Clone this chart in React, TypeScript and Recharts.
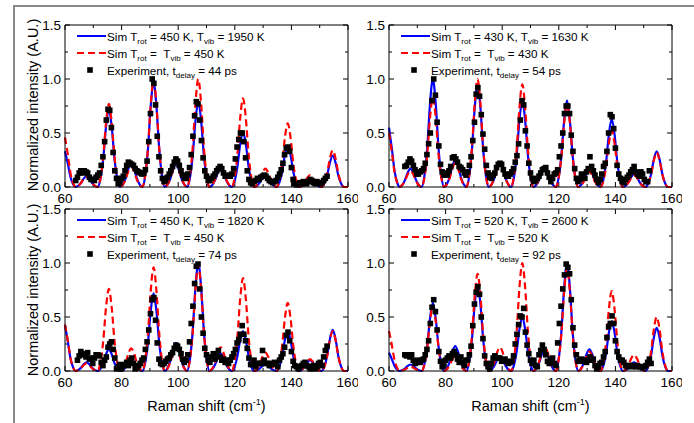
import React from 'react';
import { ComposedChart, Line, Scatter, XAxis, YAxis, ReferenceLine } from 'recharts';

// Raman shift grid of the simulated spectra (cm-1)
const simShift = [
  60, 61, 62, 63, 63.65,
  64.6, 65.6, 66.6, 67.6, 68.6, 69.6, 70.6, 71.55,
  72.5, 73.5, 74.5, 75.5, 76.5, 77.5, 78.5, 79.45,
  80.4, 81.4, 82.4, 83.4, 84.4, 85.4, 86.4, 87.35,
  88.3, 89.3, 90.3, 91.3, 92.3, 93.3, 94.3, 95.25,
  96.2, 97.2, 98.2, 99.2, 100.2, 101.2, 102.2, 103.15,
  104.1, 105.1, 106.1, 107.1, 108.1, 109.1, 110.1, 111.05,
  112.0, 113.0, 114.0, 115.0, 116.0, 117.0, 118.0, 118.95,
  119.9, 120.9, 121.9, 122.9, 123.9, 124.9, 125.9, 126.85,
  127.8, 128.8, 129.8, 130.8, 131.8, 132.8, 133.8, 134.75,
  135.7, 136.7, 137.7, 138.7, 139.7, 140.7, 141.7, 142.65,
  143.6, 144.6, 145.6, 146.6, 147.6, 148.6, 149.6, 150.6,
  151.6, 152.6, 153.6, 154.6, 155.6, 156.6, 157.6, 158.6, 160,
];

// top left: Trot = 450 K, Tvib = 1950 K
const tlBlue = [
  0.33, 0.215, 0.086, 0.02, 0,
  0.01, 0.036, 0.078, 0.1, 0.078, 0.036, 0.01, 0,
  0.072, 0.259, 0.558, 0.72, 0.558, 0.259, 0.072, 0,
  0.022, 0.079, 0.171, 0.22, 0.171, 0.079, 0.022, 0,
  0.097, 0.349, 0.752, 0.97, 0.752, 0.349, 0.097, 0,
  0.021, 0.076, 0.163, 0.21, 0.163, 0.076, 0.021, 0,
  0.079, 0.284, 0.612, 0.79, 0.612, 0.284, 0.079, 0,
  0.017, 0.061, 0.132, 0.17, 0.132, 0.061, 0.017, 0,
  0.051, 0.184, 0.395, 0.51, 0.395, 0.184, 0.051, 0,
  0.011, 0.04, 0.085, 0.11, 0.085, 0.04, 0.011, 0,
  0.038, 0.137, 0.295, 0.38, 0.295, 0.137, 0.038, 0,
  0.007, 0.025, 0.054, 0.07, 0.054, 0.025, 0.007, 0,
  0.029, 0.104, 0.225, 0.29, 0.225, 0.104, 0.029, 0, 0,
];
const tlRed = [
  0.46, 0.3, 0.12, 0.028, 0,
  0.01, 0.036, 0.078, 0.1, 0.078, 0.036, 0.01, 0,
  0.077, 0.277, 0.597, 0.77, 0.597, 0.277, 0.077, 0,
  0.019, 0.068, 0.147, 0.19, 0.147, 0.068, 0.019, 0,
  0.099, 0.356, 0.767, 0.99, 0.767, 0.356, 0.099, 0,
  0.022, 0.079, 0.171, 0.22, 0.171, 0.079, 0.022, 0,
  0.1, 0.36, 0.775, 1.0, 0.775, 0.36, 0.1, 0,
  0.019, 0.068, 0.147, 0.19, 0.147, 0.068, 0.019, 0,
  0.082, 0.295, 0.636, 0.82, 0.636, 0.295, 0.082, 0,
  0.017, 0.061, 0.132, 0.17, 0.132, 0.061, 0.017, 0,
  0.059, 0.212, 0.457, 0.59, 0.457, 0.212, 0.059, 0,
  0.011, 0.04, 0.085, 0.11, 0.085, 0.04, 0.011, 0,
  0.034, 0.122, 0.264, 0.34, 0.264, 0.122, 0.034, 0, 0,
];

// top right: Trot = 430 K, Tvib = 1630 K
const trBlue = [
  0.55, 0.358, 0.143, 0.033, 0,
  0.017, 0.061, 0.132, 0.17, 0.132, 0.061, 0.017, 0,
  0.1, 0.36, 0.775, 1.0, 0.775, 0.36, 0.1, 0,
  0.025, 0.09, 0.194, 0.25, 0.194, 0.09, 0.025, 0,
  0.095, 0.342, 0.736, 0.95, 0.736, 0.342, 0.095, 0,
  0.022, 0.079, 0.171, 0.22, 0.171, 0.079, 0.022, 0,
  0.08, 0.288, 0.62, 0.8, 0.62, 0.288, 0.08, 0,
  0.018, 0.065, 0.14, 0.18, 0.14, 0.065, 0.018, 0,
  0.08, 0.288, 0.62, 0.8, 0.62, 0.288, 0.08, 0,
  0.016, 0.058, 0.124, 0.16, 0.124, 0.058, 0.016, 0,
  0.063, 0.227, 0.488, 0.63, 0.488, 0.227, 0.063, 0,
  0.012, 0.043, 0.093, 0.12, 0.093, 0.043, 0.012, 0,
  0.033, 0.119, 0.256, 0.33, 0.256, 0.119, 0.033, 0, 0,
];
const trRed = [
  0.5, 0.325, 0.13, 0.03, 0,
  0.015, 0.054, 0.116, 0.15, 0.116, 0.054, 0.015, 0,
  0.083, 0.299, 0.643, 0.83, 0.643, 0.299, 0.083, 0,
  0.022, 0.079, 0.171, 0.22, 0.171, 0.079, 0.022, 0,
  0.1, 0.36, 0.775, 1.0, 0.775, 0.36, 0.1, 0,
  0.022, 0.079, 0.171, 0.22, 0.171, 0.079, 0.022, 0,
  0.095, 0.342, 0.736, 0.95, 0.736, 0.342, 0.095, 0,
  0.02, 0.072, 0.155, 0.2, 0.155, 0.072, 0.02, 0,
  0.077, 0.277, 0.597, 0.77, 0.597, 0.277, 0.077, 0,
  0.014, 0.05, 0.109, 0.14, 0.109, 0.05, 0.014, 0,
  0.052, 0.187, 0.403, 0.52, 0.403, 0.187, 0.052, 0,
  0.011, 0.04, 0.085, 0.11, 0.085, 0.04, 0.011, 0,
  0.032, 0.115, 0.248, 0.32, 0.248, 0.115, 0.032, 0, 0,
];

// bottom left: Trot = 450 K, Tvib = 1820 K
const blBlue = [
  0.42, 0.273, 0.109, 0.025, 0,
  0.008, 0.029, 0.062, 0.08, 0.062, 0.029, 0.008, 0,
  0.02, 0.072, 0.155, 0.2, 0.155, 0.072, 0.02, 0,
  0.009, 0.032, 0.07, 0.09, 0.07, 0.032, 0.009, 0,
  0.072, 0.259, 0.558, 0.72, 0.558, 0.259, 0.072, 0,
  0.026, 0.094, 0.202, 0.26, 0.202, 0.094, 0.026, 0,
  0.1, 0.36, 0.775, 1.0, 0.775, 0.36, 0.1, 0,
  0.016, 0.058, 0.124, 0.16, 0.124, 0.058, 0.016, 0,
  0.037, 0.133, 0.287, 0.37, 0.287, 0.133, 0.037, 0,
  0.006, 0.022, 0.047, 0.06, 0.047, 0.022, 0.006, 0,
  0.037, 0.133, 0.287, 0.37, 0.287, 0.133, 0.037, 0,
  0.01, 0.036, 0.078, 0.1, 0.078, 0.036, 0.01, 0,
  0.038, 0.137, 0.295, 0.38, 0.295, 0.137, 0.038, 0, 0,
];
const blRed = [
  0.43, 0.28, 0.112, 0.026, 0,
  0.007, 0.025, 0.054, 0.07, 0.054, 0.025, 0.007, 0,
  0.076, 0.274, 0.589, 0.76, 0.589, 0.274, 0.076, 0,
  0.021, 0.076, 0.163, 0.21, 0.163, 0.076, 0.021, 0,
  0.096, 0.346, 0.744, 0.96, 0.744, 0.346, 0.096, 0,
  0.022, 0.079, 0.171, 0.22, 0.171, 0.079, 0.022, 0,
  0.098, 0.353, 0.76, 0.98, 0.76, 0.353, 0.098, 0,
  0.022, 0.079, 0.171, 0.22, 0.171, 0.079, 0.022, 0,
  0.086, 0.31, 0.667, 0.86, 0.667, 0.31, 0.086, 0,
  0.017, 0.061, 0.132, 0.17, 0.132, 0.061, 0.017, 0,
  0.063, 0.227, 0.488, 0.63, 0.488, 0.227, 0.063, 0,
  0.011, 0.04, 0.085, 0.11, 0.085, 0.04, 0.011, 0,
  0.037, 0.133, 0.287, 0.37, 0.287, 0.133, 0.037, 0, 0,
];

// bottom right: Trot = 520 K, Tvib = 2600 K
const brBlue = [
  0.17, 0.11, 0.044, 0.01, 0,
  0.006, 0.022, 0.047, 0.06, 0.047, 0.022, 0.006, 0,
  0.063, 0.227, 0.488, 0.63, 0.488, 0.227, 0.063, 0,
  0.023, 0.083, 0.178, 0.23, 0.178, 0.083, 0.023, 0,
  0.08, 0.288, 0.62, 0.8, 0.62, 0.288, 0.08, 0,
  0.013, 0.047, 0.101, 0.13, 0.101, 0.047, 0.013, 0,
  0.05, 0.18, 0.388, 0.5, 0.388, 0.18, 0.05, 0,
  0.02, 0.072, 0.155, 0.2, 0.155, 0.072, 0.02, 0,
  0.1, 0.36, 0.775, 1.0, 0.775, 0.36, 0.1, 0,
  0.02, 0.072, 0.155, 0.2, 0.155, 0.072, 0.02, 0,
  0.046, 0.166, 0.357, 0.46, 0.357, 0.166, 0.046, 0,
  0.008, 0.029, 0.062, 0.08, 0.062, 0.029, 0.008, 0,
  0.04, 0.144, 0.31, 0.4, 0.31, 0.144, 0.04, 0, 0,
];
const brRed = [
  0.37, 0.24, 0.096, 0.022, 0,
  0.004, 0.014, 0.031, 0.04, 0.031, 0.014, 0.004, 0,
  0.06, 0.216, 0.465, 0.6, 0.465, 0.216, 0.06, 0,
  0.014, 0.05, 0.109, 0.14, 0.109, 0.05, 0.014, 0,
  0.09, 0.324, 0.698, 0.9, 0.698, 0.324, 0.09, 0,
  0.022, 0.079, 0.171, 0.22, 0.171, 0.079, 0.022, 0,
  0.1, 0.36, 0.775, 1.0, 0.775, 0.36, 0.1, 0,
  0.023, 0.083, 0.178, 0.23, 0.178, 0.083, 0.023, 0,
  0.095, 0.342, 0.736, 0.95, 0.736, 0.342, 0.095, 0,
  0.018, 0.065, 0.14, 0.18, 0.14, 0.065, 0.018, 0,
  0.074, 0.266, 0.574, 0.74, 0.574, 0.266, 0.074, 0,
  0.015, 0.054, 0.116, 0.15, 0.116, 0.054, 0.015, 0,
  0.05, 0.18, 0.388, 0.5, 0.388, 0.18, 0.05, 0, 0,
];

// measured spectra grid (cm-1)
const expShift = [
  63.8, 64.4, 65.0, 65.6, 66.2, 66.8, 67.4, 68.0, 68.6, 69.2,
  69.8, 70.4, 71.0, 71.6, 72.2, 72.8, 73.4, 74.0, 74.6, 75.2,
  75.8, 76.4, 77.0, 77.6, 78.2, 78.8, 79.4, 80.0, 80.6, 81.2,
  81.8, 82.4, 83.0, 83.6, 84.2, 84.8, 85.4, 86.0, 86.6, 87.2,
  87.8, 88.4, 89.0, 89.6, 90.2, 90.8, 91.4, 92.0, 92.6, 93.2,
  93.8, 94.4, 95.0, 95.6, 96.2, 96.8, 97.4, 98.0, 98.6, 99.2,
  99.8, 100.4, 101.0, 101.6, 102.2, 102.8, 103.4, 104.0, 104.6, 105.2,
  105.8, 106.4, 107.0, 107.6, 108.2, 108.8, 109.4, 110.0, 110.6, 111.2,
  111.8, 112.4, 113.0, 113.6, 114.2, 114.8, 115.4, 116.0, 116.6, 117.2,
  117.8, 118.4, 119.0, 119.6, 120.2, 120.8, 121.4, 122.0, 122.6, 123.2,
  123.8, 124.4, 125.0, 125.6, 126.2, 126.8, 127.4, 128.0, 128.6, 129.2,
  129.8, 130.4, 131.0, 131.6, 132.2, 132.8, 133.4, 134.0, 134.6, 135.2,
  135.8, 136.4, 137.0, 137.6, 138.2, 138.8, 139.4, 140.0, 140.6, 141.2,
  141.8, 142.4, 143.0, 143.6, 144.2, 144.8, 145.4, 146.0, 146.6, 147.2,
  147.8, 148.4, 149.0, 149.6, 150.2, 150.8, 151.4, 152.0, 152.6,
];

const tlExp = [
  0.06, 0.09, 0.13, 0.15, 0.13, 0.15, 0.14, 0.13, 0.09, 0.07,
  0.07, 0.06, 0.09, 0.11, 0.13, 0.2, 0.28, 0.42, 0.62, 0.72,
  0.71, 0.55, 0.32, 0.15, 0.08, 0.03, 0.04, 0.08, 0.1, 0.15,
  0.2, 0.23, 0.22, 0.21, 0.2, 0.17, 0.15, 0.14, 0.13, 0.12,
  0.13, 0.16, 0.24, 0.42, 0.68, 1.0, 0.96, 0.76, 0.47, 0.28,
  0.15, 0.08, 0.05, 0.06, 0.09, 0.12, 0.15, 0.19, 0.23, 0.26,
  0.24, 0.2, 0.15, 0.11, 0.08, 0.08, 0.12, 0.18, 0.3, 0.47,
  0.66, 0.79, 0.77, 0.62, 0.43, 0.27, 0.15, 0.1, 0.06, 0.06,
  0.08, 0.1, 0.12, 0.15, 0.17, 0.19, 0.17, 0.13, 0.1, 0.1,
  0.11, 0.1, 0.12, 0.17, 0.26, 0.37, 0.44, 0.5, 0.5, 0.42,
  0.27, 0.15, 0.07, 0.04, 0.03, 0.05, 0.06, 0.08, 0.07, 0.09,
  0.1, 0.11, 0.1, 0.08, 0.06, 0.05, 0.04, 0.05, 0.06, 0.09,
  0.12, 0.16, 0.22, 0.3, 0.36, 0.37, 0.33, 0.18, 0.07, 0.03,
  0.02, 0.03, 0.04, 0.03, 0.05, 0.04, 0.03, 0.05, 0.07, 0.06,
  0.04, 0.03, 0.05, 0.04, 0.03, 0.04, 0.06, 0.08, 0.1,
];
const trExp = [
  null, null, null, 0.19, 0.2, 0.23, 0.26, 0.24, 0.2, 0.16,
  0.12, 0.12, 0.14, 0.15, 0.17, 0.22, 0.3, 0.4, 0.5, 0.8,
  1.0, 0.85, 0.6, 0.38, 0.21, 0.14, 0.11, 0.13, 0.11, 0.15,
  0.19, 0.27, 0.28, 0.26, 0.23, 0.19, 0.18, 0.16, 0.13, 0.11,
  0.14, 0.2, 0.28, 0.43, 0.6, 0.86, 0.92, 0.84, 0.67, 0.49,
  0.35, 0.2, 0.13, 0.09, 0.08, 0.11, 0.13, 0.18, 0.21, 0.22,
  0.21, 0.16, 0.12, 0.1, 0.1, 0.12, 0.14, 0.17, 0.23, 0.29,
  0.4, 0.62, 0.8, 0.76, 0.52, 0.38, 0.22, 0.13, 0.08, 0.05,
  0.06, 0.08, 0.1, 0.13, 0.16, 0.17, 0.18, 0.13, 0.09, 0.05,
  0.08, 0.12, 0.13, 0.16, 0.28, 0.38, 0.5, 0.68, 0.75, 0.75,
  0.68, 0.48, 0.33, 0.17, 0.08, 0.05, 0.07, 0.12, 0.11, 0.08,
  0.14, 0.17, 0.28, 0.19, 0.15, 0.11, 0.07, 0.04, 0.07, 0.12,
  0.19, 0.22, 0.33, 0.5, 0.67, 0.65, 0.54, 0.36, 0.2, 0.12,
  0.08, 0.05, 0.04, 0.07, 0.09, 0.11, 0.14, 0.16, 0.19, 0.14,
  0.12, 0.1, 0.14, 0.12, 0.07, 0.05, 0.05, 0.15, null,
];
const blExp = [
  null, 0.1, 0.14, 0.18, 0.16, 0.15, 0.13, 0.17, 0.11, 0.12,
  0.07, 0.12, 0.15, 0.15, 0.14, 0.08, 0.05, 0.1, 0.13, 0.22,
  0.25, 0.27, 0.2, 0.12, 0.02, 0.04, 0.06, 0.02, 0.05, 0.06,
  0.08, 0.05, 0.1, 0.12, 0.07, 0.02, 0.03, 0.05, 0.07, 0.1,
  0.12, 0.2, 0.27, 0.38, 0.53, 0.66, 0.68, 0.47, 0.26, 0.11,
  0.07, 0.06, 0.07, 0.09, 0.11, 0.12, 0.15, 0.17, 0.21, 0.24,
  0.23, 0.2, 0.16, 0.11, 0.08, 0.1, 0.15, 0.27, 0.44, 0.6,
  0.81, 0.97, 0.99, 0.76, 0.5, 0.35, 0.21, 0.15, 0.1, 0.08,
  0.13, 0.16, 0.11, 0.16, 0.19, 0.13, 0.1, 0.11, 0.08, 0.1,
  0.07, 0.1, 0.13, 0.16, 0.2, 0.26, 0.29, 0.34, 0.42, 0.34,
  0.28, 0.21, 0.12, 0.06, 0.06, 0.1, 0.04, 0.07, 0.07, 0.07,
  0.19, 0.1, 0.07, 0.07, 0.05, 0.07, 0.06, 0.08, 0.07, 0.04,
  0.1, 0.13, 0.16, 0.22, 0.33, 0.36, 0.28, 0.18, 0.09, 0.05,
  0.04, 0.02, 0.04, 0.05, 0.07, 0.08, 0.05, 0.04, 0.02, 0.04,
  0.05, 0.02, 0.04, 0.07, 0.08, 0.05, 0.13, 0.19, 0.23,
];
const brExp = [
  null, null, null, 0.15, 0.14, 0.15, 0.13, 0.15, 0.1, 0.07,
  0.08, 0.1, 0.08, 0.1, 0.11, 0.15, 0.2, 0.28, 0.44, 0.59,
  0.66, 0.55, 0.38, 0.18, 0.09, 0.04, 0.06, 0.1, 0.12, 0.14,
  0.12, 0.16, 0.18, 0.15, 0.11, 0.08, 0.13, 0.08, 0.05, 0.1,
  0.1, 0.15, 0.23, 0.42, 0.62, 0.73, 0.78, 0.71, 0.5, 0.3,
  0.14, 0.07, 0.04, 0.02, 0.07, 0.12, 0.14, 0.12, 0.12, 0.12,
  0.09, 0.1, 0.11, 0.09, 0.07, 0.08, 0.09, 0.14, 0.25, 0.34,
  0.43, 0.51, 0.5, 0.58, 0.36, 0.24, 0.16, 0.1, 0.07, 0.1,
  0.05, 0.04, 0.15, 0.19, 0.24, 0.2, 0.15, 0.09, 0.07, 0.11,
  0.12, 0.07, 0.05, 0.26, 0.44, 0.6, 0.76, 0.89, 0.99, 0.96,
  0.9, 0.66, 0.4, 0.24, 0.15, 0.09, 0.1, 0.11, 0.09, 0.1,
  0.08, 0.1, 0.13, 0.1, 0.11, 0.05, 0.02, 0.04, 0.07, 0.08,
  0.13, 0.18, 0.31, 0.41, 0.44, 0.51, 0.44, 0.28, 0.18, 0.13,
  0.1, 0.1, 0.08, 0.05, 0.04, 0.05, 0.05, 0.04, 0.05, 0.04,
  0.05, 0.04, 0.04, 0.03, 0.04, 0.05, 0.08, 0.11, 0.07,
];

// legend values: [Trot, Tvib, tdelay]
const tlLabels = [450, 1950, 44];
const trLabels = [430, 1630, 54];
const blLabels = [450, 1820, 74];
const brLabels = [520, 2600, 92];

const xTicks = [60, 80, 100, 120, 140, 160];
const xMinorTicks = [70, 90, 110, 130, 150];
const yTicks = [0, 0.5, 1.0, 1.5];
const yMinorTicks = [0.25, 0.75, 1.25];

const FONT = 'Arial, "Liberation Sans", Helvetica, sans-serif';
const PLOT_W = 283;
const PLOT_H = 162;
// tick lengths in data units (5px major, 3px minor)
const TX = (5 * 100) / PLOT_W;
const TXm = (3 * 100) / PLOT_W;
const TY = (5 * 1.5) / PLOT_H;
const TYm = (3 * 1.5) / PLOT_H;

const toPoints = (xs: number[], ys: (number | null)[]) =>
  xs.map((x, i) => ({ x, y: ys[i] })).filter((p) => p.y !== null && p.y !== undefined);

const Square = (props: any) => {
  const { cx, cy } = props;
  if (cx == null || cy == null) return null;
  return <rect x={cx - 2.8} y={cy - 2.8} width={5.6} height={5.6} fill="#000" />;
};

const subStyle: React.CSSProperties = { fontSize: 8, verticalAlign: -3, lineHeight: 0 };

const Legend = ({ labels }: { labels: number[] }) => {
  const [trot, tvib, delay] = labels;
  const row = (top: number): React.CSSProperties => ({
    position: 'absolute',
    left: 62,
    top: top - 8,
    height: 16,
    display: 'flex',
    alignItems: 'center',
    whiteSpace: 'nowrap',
    fontFamily: FONT,
    fontSize: 11.7,
    color: '#000',
  });
  return (
    <>
      <div style={row(21)}>
        <svg width={30} height={16}>
          <line x1={0} y1={8} x2={29} y2={8} stroke="#0000ff" strokeWidth={2} />
        </svg>
        <span>
          Sim T<span style={subStyle}>rot</span> = {trot} K, T<span style={subStyle}>vib</span> = {tvib} K
        </span>
      </div>
      <div style={row(38)}>
        <svg width={30} height={16}>
          <line x1={0} y1={8} x2={29} y2={8} stroke="#ff0000" strokeWidth={2} strokeDasharray="7 4" />
        </svg>
        <span>
          Sim T<span style={subStyle}>rot</span> = {'\u00a0'}T<span style={subStyle}>vib</span> = {trot} K
        </span>
      </div>
      <div style={row(55)}>
        <svg width={30} height={16}>
          <rect x={10.2} y={5.2} width={5.6} height={5.6} fill="#000" />
        </svg>
        <span>
          Experiment, t<span style={subStyle}>delay</span> = {delay} ps
        </span>
      </div>
    </>
  );
};

interface PanelProps {
  plotLeft: number;
  plotTop: number;
  blue: number[];
  red: number[];
  exp: (number | null)[];
  labels: number[];
}

const Panel = ({ plotLeft, plotTop, blue, red, exp, labels }: PanelProps) => {
  const blueData = toPoints(simShift, blue);
  const redData = toPoints(simShift, red);
  const expData = toPoints(expShift, exp);
  const axisTick = { fill: '#000', fontSize: 13.5, fontFamily: FONT };
  return (
    <div style={{ position: 'absolute', left: plotLeft - 50, top: plotTop - 10, width: 343, height: 202 }}>
      <ComposedChart width={343} height={202} margin={{ top: 10, right: 10, left: 0, bottom: 0 }}>
        <XAxis
          dataKey="x"
          type="number"
          domain={[60, 160]}
          ticks={xTicks}
          tickLine={false}
          tickSize={0}
          tickMargin={6}
          height={30}
          axisLine={{ stroke: '#000', strokeWidth: 1 }}
          tick={axisTick}
        />
        <YAxis
          dataKey="y"
          type="number"
          domain={[0, 1.5]}
          ticks={yTicks}
          tickFormatter={(v: number) => v.toFixed(1)}
          tickLine={false}
          tickSize={0}
          tickMargin={4}
          width={50}
          axisLine={{ stroke: '#000', strokeWidth: 1 }}
          tick={axisTick}
        />
        <ReferenceLine y={1.5} stroke="#000" strokeWidth={1} />
        <ReferenceLine x={160} stroke="#000" strokeWidth={1} />
        {xTicks.map((t) => (
          <ReferenceLine key={`xb${t}`} segment={[{ x: t, y: 0 }, { x: t, y: TY }]} stroke="#000" />
        ))}
        {xTicks.map((t) => (
          <ReferenceLine key={`xt${t}`} segment={[{ x: t, y: 1.5 }, { x: t, y: 1.5 - TY }]} stroke="#000" />
        ))}
        {xMinorTicks.map((t) => (
          <ReferenceLine key={`xbm${t}`} segment={[{ x: t, y: 0 }, { x: t, y: TYm }]} stroke="#000" />
        ))}
        {xMinorTicks.map((t) => (
          <ReferenceLine key={`xtm${t}`} segment={[{ x: t, y: 1.5 }, { x: t, y: 1.5 - TYm }]} stroke="#000" />
        ))}
        {yTicks.map((t) => (
          <ReferenceLine key={`yl${t}`} segment={[{ x: 60, y: t }, { x: 60 + TX, y: t }]} stroke="#000" />
        ))}
        {yTicks.map((t) => (
          <ReferenceLine key={`yr${t}`} segment={[{ x: 160, y: t }, { x: 160 - TX, y: t }]} stroke="#000" />
        ))}
        {yMinorTicks.map((t) => (
          <ReferenceLine key={`ylm${t}`} segment={[{ x: 60, y: t }, { x: 60 + TXm, y: t }]} stroke="#000" />
        ))}
        {yMinorTicks.map((t) => (
          <ReferenceLine key={`yrm${t}`} segment={[{ x: 160, y: t }, { x: 160 - TXm, y: t }]} stroke="#000" />
        ))}
        <Line
          data={blueData}
          dataKey="y"
          type="monotone"
          stroke="#0000ff"
          strokeWidth={2.2}
          dot={false}
          activeDot={false}
          isAnimationActive={false}
        />
        <Line
          data={redData}
          dataKey="y"
          type="monotone"
          stroke="#ff0000"
          strokeWidth={2.2}
          strokeDasharray="7 4"
          dot={false}
          activeDot={false}
          isAnimationActive={false}
        />
        <Scatter data={expData} dataKey="y" shape={Square} isAnimationActive={false} />
      </ComposedChart>
      <Legend labels={labels} />
    </div>
  );
};

const yTitleStyle = (centerY: number): React.CSSProperties => ({
  position: 'absolute',
  left: 33 - 110,
  top: centerY - 10,
  width: 220,
  height: 20,
  lineHeight: '20px',
  textAlign: 'center',
  transform: 'rotate(-90deg)',
  fontFamily: FONT,
  fontSize: 14.5,
  color: '#000',
  whiteSpace: 'nowrap',
});

const xTitleStyle = (centerX: number): React.CSSProperties => ({
  position: 'absolute',
  left: centerX - 110,
  top: 396,
  width: 220,
  height: 20,
  lineHeight: '20px',
  textAlign: 'center',
  fontFamily: FONT,
  fontSize: 14.5,
  color: '#000',
  whiteSpace: 'nowrap',
});

export default function App() {
  return (
    <div style={{ position: 'absolute', left: 0, top: 0, width: 694, height: 423, background: '#fff', overflow: 'hidden' }}>
      <div
        style={{
          position: 'absolute',
          left: 13,
          top: 5,
          width: 694 - 13,
          height: 423 - 5,
          borderTop: '2px solid #888',
          borderLeft: '2px solid #888',
          boxSizing: 'border-box',
        }}
      />
      <Panel plotLeft={65} plotTop={25} blue={tlBlue} red={tlRed} exp={tlExp} labels={tlLabels} />
      <Panel plotLeft={389} plotTop={25} blue={trBlue} red={trRed} exp={trExp} labels={trLabels} />
      <Panel plotLeft={65} plotTop={209} blue={blBlue} red={blRed} exp={blExp} labels={blLabels} />
      <Panel plotLeft={389} plotTop={209} blue={brBlue} red={brRed} exp={brExp} labels={brLabels} />
      <div style={yTitleStyle(105)}>Normalized intensity (A.U.)</div>
      <div style={yTitleStyle(290)}>Normalized intensity (A.U.)</div>
      <div style={xTitleStyle(206.5)}>
        Raman shift (cm<sup style={{ fontSize: 9, verticalAlign: 6, lineHeight: 0 }}>-1</sup>)
      </div>
      <div style={xTitleStyle(530.5)}>
        Raman shift (cm<sup style={{ fontSize: 9, verticalAlign: 6, lineHeight: 0 }}>-1</sup>)
      </div>
    </div>
  );
}
